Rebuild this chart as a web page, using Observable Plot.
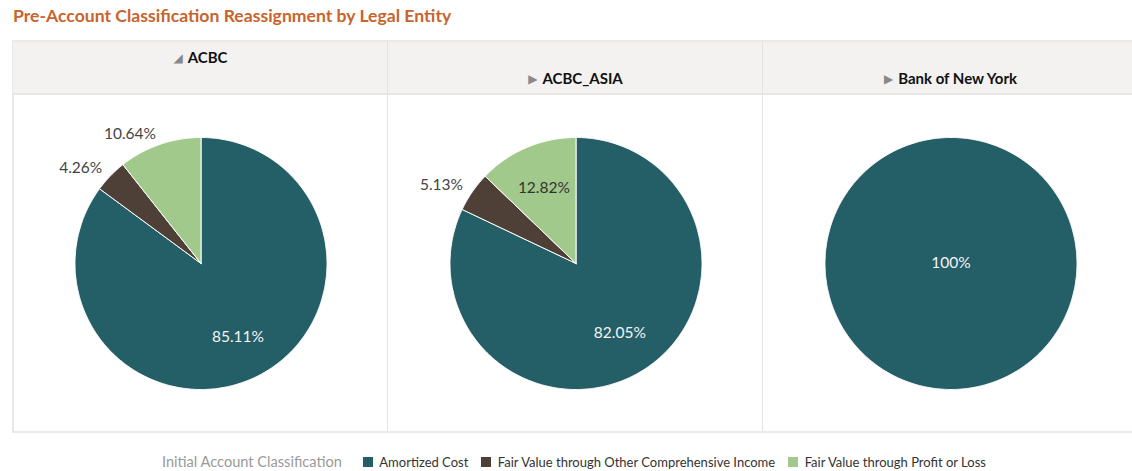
<!DOCTYPE html>
<html><head><meta charset="utf-8">
<script src="https://cdn.jsdelivr.net/npm/d3@7"></script>
<script src="https://cdn.jsdelivr.net/npm/@observablehq/plot@0.6"></script>
<style>
html,body{margin:0;padding:0;background:#fff;overflow:hidden;width:1132px;height:471px;}
body{font-family:Lato,"Open Sans",sans-serif;position:relative;}
#title{position:absolute;left:13px;top:5px;font-size:17.6px;line-height:22px;font-weight:bold;color:#c8642d;white-space:nowrap;}
.frame{position:absolute;left:12px;top:40px;width:1130px;height:393px;box-sizing:border-box;border-top:2px solid #e9e9e9;border-left:2px solid #e9e9e9;border-bottom:2px solid #e9e9e9;}
.col{position:absolute;top:40px;width:375px;height:393px;box-sizing:border-box;}
.head{position:absolute;left:0;top:2px;width:100%;height:53px;background:#f3f2f1;border-bottom:2px solid #e6e6e6;box-sizing:border-box;text-align:center;font-weight:bold;font-size:15px;color:#111;}
.head span.ic{font-family:"DejaVu Sans";color:#888;font-size:12px;margin-right:5px;position:relative;top:-1px;}
.divider{position:absolute;top:42px;width:1px;height:389px;background:#e3e3e3;}
.body{position:absolute;left:0;top:55px;width:375px;height:336px;}
#legend{position:absolute;left:162px;top:453px;display:flex;align-items:center;white-space:nowrap;}
#legend .lab{color:#9a9a9a;font-size:14.6px;margin-right:21px;}
</style></head>
<body>
<div id="title">Pre-Account Classification Reassignment by Legal Entity</div>
<div class="frame"></div>
<div id="cols"></div>
<div id="legend"><span class="lab">Initial Account Classification</span></div>
<script>
const entities = ["ACBC", "ACBC_ASIA", "Bank of New York"];
const expanded = [true, false, false];
const categories = ["Amortized Cost", "Fair Value through Other Comprehensive Income", "Fair Value through Profit or Loss"];
const colors = ["#245e66", "#4f4037", "#a1c98b"];
const amortizedCost = [85.11, 82.05, 100];
const fairValueOCI = [4.26, 5.13, 0];
const fairValuePL = [10.64, 12.82, 0];
const seriesValues = [amortizedCost, fairValueOCI, fairValuePL];

const W = 375, H = 336, R = 126;
const colsDiv = document.getElementById("cols");

entities.forEach((entity, ei) => {
  const left = 13 + 375 * ei;
  const col = document.createElement("div");
  col.className = "col";
  col.style.left = left + "px";
  const head = document.createElement("div");
  head.className = "head";
  head.style.paddingTop = expanded[ei] ? "6px" : "27px";
  head.innerHTML = `<span class="ic">${expanded[ei] ? "\u25E2" : "\u25B6"}</span>${entity}`;
  col.appendChild(head);
  const body = document.createElement("div");
  body.className = "body";
  col.appendChild(body);
  colsDiv.appendChild(col);
  if (ei > 0) {
    const dv = document.createElement("div");
    dv.className = "divider";
    dv.style.left = (left - 1) + "px";
    colsDiv.appendChild(dv);
  }

  const rows = categories.map((c, ci) => ({cat: c, value: seriesValues[ci][ei]})).filter(d => d.value > 0);
  const total = d3.sum(rows, d => d.value);
  const pts = [], labels = [];
  let acc = 0;
  rows.forEach((d, si) => {
    const a0 = acc / total * 2 * Math.PI;
    acc += d.value;
    const a1 = acc / total * 2 * Math.PI;
    const full = (a1 - a0) >= 2 * Math.PI - 1e-9;
    const n = Math.max(2, Math.ceil((a1 - a0) / (Math.PI / 360)));
    if (!full) pts.push({x: 0, y: 0, cat: d.cat, slice: si});
    for (let i = 0; i <= n; i++) {
      const t = a0 + (a1 - a0) * i / n;
      pts.push({x: Math.sin(t), y: Math.cos(t), cat: d.cat, slice: si});
    }
    if (!full) pts.push({x: 0, y: 0, cat: d.cat, slice: si});
    const m = (a0 + a1) / 2;
    const text = `${+d.value.toFixed(2)}%`;
    const col = colors[categories.indexOf(d.cat)];
    let kind, r;
    if (full) { kind = "inDark"; r = 0; }
    else if (d.value >= 12) { kind = d3.hsl(col).l > 0.55 ? "inLight" : "inDark"; r = 0.65; }
    else { kind = Math.sin(m) < 0 ? "outLeft" : "outRight"; r = 1.09; }
    labels.push({x: Math.sin(m) * r, y: Math.cos(m) * r, text, kind});
  });

  const chart = Plot.plot({
    width: W, height: H, margin: 0,
    x: {domain: [-W / 2 / R, W / 2 / R], axis: null},
    y: {domain: [-H / 2 / R, H / 2 / R], axis: null},
    color: {domain: categories, range: colors},
    style: {background: "transparent", fontFamily: "Lato, sans-serif", fontSize: "15.5px"},
    marks: [
      Plot.line(pts, {x: "x", y: "y", z: "slice", fill: "cat", stroke: "white", strokeWidth: 1, curve: "linear"}),
      Plot.text(labels.filter(d => d.kind === "inDark"), {x: "x", y: "y", text: "text", fill: "#f4f4f4"}),
      Plot.text(labels.filter(d => d.kind === "inLight"), {x: "x", y: "y", text: "text", fill: "#333"}),
      Plot.text(labels.filter(d => d.kind === "outLeft"), {x: "x", y: "y", text: "text", fill: "#444", textAnchor: "end"}),
      Plot.text(labels.filter(d => d.kind === "outRight"), {x: "x", y: "y", text: "text", fill: "#444", textAnchor: "start"})
    ]
  });
  body.appendChild(chart);
});

const leg = Plot.legend({
  color: {type: "ordinal", domain: categories, range: colors},
  swatchSize: 10,
  style: {fontSize: "13px", fontFamily: "Lato, sans-serif", color: "#333", margin: "0", minHeight: "0"}
});
document.getElementById("legend").appendChild(leg);
</script>
</body></html>
